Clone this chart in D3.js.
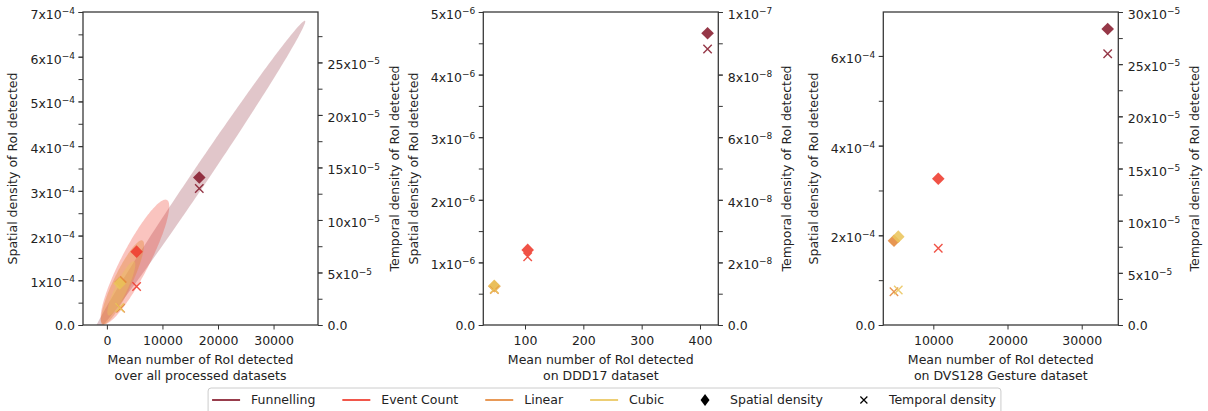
<!DOCTYPE html>
<html>
<head>
<meta charset="utf-8">
<script src="https://cdn.jsdelivr.net/npm/d3@7"></script>
<style>
  body { margin: 0; background: #fff; }
  text { font-family: "DejaVu Sans", sans-serif; fill: #222; }
</style>
</head>
<body>
<script>
// ---- data ----
const methods = ["Funnelling", "Event Count", "Linear", "Cubic"];
const methodColors = ["#861b2d", "#ee3a2c", "#e4873a", "#eac55c"];

// all processed datasets
const allX = [16630, 5350, 2470, 2300];
const allSpatial = [3.30e-4, 1.64e-4, 0.96e-4, 0.93e-4];
const allTemporal = [13.0e-5, 3.66e-5, 1.60e-5, 1.66e-5];

// confidence ellipses (all datasets panel): mean, std, pearson
const ellCenterX = [16630, 5045, 2800, 2600];
const ellCenterY = [3.30e-4, 1.41e-4, 0.95e-4, 0.82e-4];
const ellStdX = [9540, 3090, 1944, 1260];
const ellStdY = [1.7526e-4, 6.97e-5, 4.72e-5, 3.04e-5];
const ellPearson = [0.9955, 0.891, 0.886, 0.88];
const nStd = 2;

// DDD17
const dddX = [413, 104.6, 47.5, 47.3];
const dddSpatial = [4.66e-6, 1.20e-6, 0.62e-6, 0.625e-6];
const dddTemporal = [8.82e-8, 2.18e-8, 1.13e-8, 1.15e-8];

// DVS128 Gesture
const dvsX = [33500, 10670, 4700, 5280];
const dvsSpatial = [6.60e-4, 3.26e-4, 1.88e-4, 1.97e-4];
const dvsTemporal = [2.60e-4, 7.35e-5, 3.19e-5, 3.35e-5];

// axis limits
const xLimits = [[-4300, 38000], [28.5, 431.4], [3260, 34930]];
const spatialLimits = [[0, 7e-4], [0, 5e-6], [0, 6.98e-4]];
const temporalLimits = [[0, 2.98e-4], [0, 1e-7], [0, 3e-4]];

// ticks: [mantissa, exponent]
const xTicks = [[0, 10000, 20000, 30000], [100, 200, 300, 400], [10000, 20000, 30000]];
const spatialTicks = [
  [[0,0],[1,-4],[2,-4],[3,-4],[4,-4],[5,-4],[6,-4],[7,-4]],
  [[0,0],[1,-6],[2,-6],[3,-6],[4,-6],[5,-6]],
  [[0,0],[2,-4],[4,-4],[6,-4]]
];
const temporalTicks = [
  [[0,0],[5,-5],[10,-5],[15,-5],[20,-5],[25,-5],[30,-5]],
  [[0,0],[2,-8],[4,-8],[6,-8],[8,-8],[1,-7]],
  [[0,0],[5,-5],[10,-5],[15,-5],[20,-5],[25,-5],[30,-5]]
];
const spatialMinor = [0.5e-4, 0.5e-6, 1e-4];
const temporalMinor = [2.5e-5, 1e-8, 2.5e-5];

const xTitles = [
  ["Mean number of RoI detected", "over all processed datasets"],
  ["Mean number of RoI detected", "on DDD17 dataset"],
  ["Mean number of RoI detected", "on DVS128 Gesture dataset"]
];

// ---- layout ----
const W = 1208, H = 411;
const plotLeft = [83, 483.3, 883.3];
const plotW = 235, plotTop = 12, plotBottom = 325;
const rightTitleOffset = [76.5, 68, 76.5];
const fs = 12.5;

const svg = d3.select("body").append("svg")
    .attr("width", W).attr("height", H);

const panels = [
  {x: allX, s: allSpatial, t: allTemporal, ellipses: true},
  {x: dddX, s: dddSpatial, t: dddTemporal, ellipses: false},
  {x: dvsX, s: dvsSpatial, t: dvsTemporal, ellipses: false}
];

function tickValue(p) { return p[0] * Math.pow(10, p[1]); }

function setTickLabel(textSel, p) {
  textSel.text(null);
  if (p[0] === 0) {
    textSel.attr("dy", "0.32em").text("0.0");
    return;
  }
  textSel.attr("dy", "0.52em");
  textSel.append("tspan").text(p[0] + "x10");
  textSel.append("tspan").attr("dy", "-0.55em").attr("font-size", "0.72em")
      .text("\u2212" + (-p[1]));
}

function minorValues(lim, step) {
  let n = Math.floor(lim[1] / step + 1e-6);
  return d3.range(0, n + 1).map(i => i * step);
}

function styleAxis(g) {
  g.select(".domain").remove();
  g.selectAll(".tick line").attr("stroke", "#333").attr("stroke-width", 1);
  g.selectAll("text").attr("font-size", fs).attr("font-family", "DejaVu Sans, sans-serif").attr("fill", "#222");
}

panels.forEach((p, k) => {
  const x0 = plotLeft[k];
  const g = svg.append("g");

  const x = d3.scaleLinear().domain(xLimits[k]).range([x0, x0 + plotW]);
  const yS = d3.scaleLinear().domain(spatialLimits[k]).range([plotBottom, plotTop]);
  const yT = d3.scaleLinear().domain(temporalLimits[k]).range([plotBottom, plotTop]);

  const clipId = "clip" + k;
  svg.append("clipPath").attr("id", clipId)
    .append("rect").attr("x", x0).attr("y", plotTop).attr("width", plotW).attr("height", plotBottom - plotTop);

  // ellipses
  if (p.ellipses) {
    const line = d3.line().x(d => x(d[0])).y(d => yS(d[1])).curve(d3.curveLinearClosed);
    methods.forEach((m, i) => {
      const rx = Math.sqrt(1 + ellPearson[i]), ry = Math.sqrt(1 - ellPearson[i]);
      const pts = d3.range(0, 360, 2).map(deg => {
        const a = deg * Math.PI / 180;
        const ex = rx * Math.cos(a), ey = ry * Math.sin(a);
        const px = (ex - ey) / Math.SQRT2, py = (ex + ey) / Math.SQRT2;
        return [ellCenterX[i] + px * ellStdX[i] * nStd, ellCenterY[i] + py * ellStdY[i] * nStd];
      });
      g.append("path")
        .attr("clip-path", `url(#${clipId})`)
        .attr("d", line(pts))
        .attr("fill", methodColors[i])
        .attr("fill-opacity", i === 0 ? 0.25 : (i === 1 ? 0.3 : 0.4))
        .attr("stroke", "none");
    });
  }

  // spatial density diamonds
  const dsize = 6.3;
  g.selectAll(".diamond")
    .data(methods.map((m, i) => ({x: p.x[i], y: p.s[i], c: methodColors[i]})))
    .enter().append("path")
    .attr("class", "diamond")
    .attr("transform", d => `translate(${x(d.x)},${yS(d.y)})`)
    .attr("d", `M0,${-dsize}L${dsize},0L0,${dsize}L${-dsize},0Z`)
    .attr("fill", d => d.c)
    .attr("fill-opacity", 0.88);

  // temporal density crosses
  const cs = 4.2;
  g.selectAll(".cross")
    .data(methods.map((m, i) => ({x: p.x[i], y: p.t[i], c: methodColors[i]})))
    .enter().append("path")
    .attr("class", "cross")
    .attr("transform", d => `translate(${x(d.x)},${yT(d.y)})`)
    .attr("d", `M${-cs},${-cs}L${cs},${cs}M${-cs},${cs}L${cs},${-cs}`)
    .attr("stroke", d => d.c)
    .attr("stroke-width", 1.4)
    .attr("stroke-opacity", 0.88)
    .attr("fill", "none");

  // frame
  g.append("rect")
    .attr("x", x0).attr("y", plotTop).attr("width", plotW).attr("height", plotBottom - plotTop)
    .attr("fill", "none").attr("stroke", "#3a3a3a").attr("stroke-width", 1.3);

  // x axis
  const gx = g.append("g").attr("transform", `translate(0,${plotBottom})`)
    .call(d3.axisBottom(x).tickValues(xTicks[k]).tickSize(4.5).tickPadding(4).tickFormat(d3.format("d")));
  styleAxis(gx);
  gx.selectAll("text").attr("dy", null).attr("y", 20);

  // left axis (spatial)
  const gl = g.append("g").attr("transform", `translate(${x0},0)`)
    .call(d3.axisLeft(yS).tickValues(minorValues(spatialLimits[k], spatialMinor[k])).tickSize(4.5).tickFormat(""));
  styleAxis(gl);
  const glm = g.append("g").attr("transform", `translate(${x0},0)`)
    .call(d3.axisLeft(yS).tickValues(spatialTicks[k].map(tickValue)).tickSize(4.5).tickPadding(3.5));
  styleAxis(glm);
  glm.selectAll(".tick text").each(function(d, i) { setTickLabel(d3.select(this), spatialTicks[k][i]); });

  // right axis (temporal)
  const gr = g.append("g").attr("transform", `translate(${x0 + plotW},0)`)
    .call(d3.axisRight(yT).tickValues(minorValues(temporalLimits[k], temporalMinor[k])).tickSize(4.5).tickFormat(""));
  styleAxis(gr);
  const tVals = temporalTicks[k].filter(t => tickValue(t) <= temporalLimits[k][1] * 1.0001);
  const grm = g.append("g").attr("transform", `translate(${x0 + plotW},0)`)
    .call(d3.axisRight(yT).tickValues(tVals.map(tickValue)).tickSize(4.5).tickPadding(5));
  styleAxis(grm);
  grm.selectAll(".tick text").each(function(d, i) { setTickLabel(d3.select(this), tVals[i]); });

  // axis titles
  const xt = g.append("text").attr("text-anchor", "middle").attr("font-size", fs);
  xTitles[k].forEach((line, j) => {
    xt.append("tspan").attr("x", x0 + plotW / 2).attr("y", 364 + j * 15.5).text(line);
  });

  const midY = (plotTop + plotBottom) / 2;
  g.append("text")
    .attr("transform", `translate(${x0 - 70},${midY}) rotate(-90)`)
    .attr("text-anchor", "middle").attr("dy", "0.35em").attr("font-size", fs)
    .text("Spatial density of RoI detected");
  g.append("text")
    .attr("transform", `translate(${x0 + plotW + rightTitleOffset[k]},${midY}) rotate(-90)`)
    .attr("text-anchor", "middle").attr("dy", "0.35em").attr("font-size", fs)
    .text("Temporal density of RoI detected");
});

// ---- legend ----
const legend = svg.append("g");
const legendBox = legend.append("rect")
  .attr("rx", 3).attr("fill", "#fff").attr("fill-opacity", 0.8)
  .attr("stroke", "#cccccc").attr("stroke-width", 1);
const items = methods.map((m, i) => ({label: m, type: "line", color: methodColors[i]}))
  .concat([{label: "Spatial density", type: "diamond"}, {label: "Temporal density", type: "cross"}]);

const ly = 400, handleLen = 28, handlePad = 11, colSpace = 27;
let cursor = 0;
const itemG = legend.append("g");
items.forEach(it => {
  const hx = cursor;
  if (it.type === "line") {
    itemG.append("line").attr("x1", hx).attr("x2", hx + handleLen).attr("y1", ly).attr("y2", ly)
      .attr("stroke", it.color).attr("stroke-width", 2).attr("stroke-opacity", 0.85);
  } else if (it.type === "diamond") {
    const c = hx + handleLen / 2;
    itemG.append("path").attr("d", `M${c},${ly - 6}L${c + 4.5},${ly}L${c},${ly + 6}L${c - 4.5},${ly}Z`).attr("fill", "#000");
  } else {
    const c = hx + handleLen / 2, s = 3.5;
    itemG.append("path").attr("d", `M${c - s},${ly - s}L${c + s},${ly + s}M${c - s},${ly + s}L${c + s},${ly - s}`)
      .attr("stroke", "#000").attr("stroke-width", 1.2);
  }
  const t = itemG.append("text").attr("x", hx + handleLen + handlePad).attr("y", ly)
    .attr("dy", "0.35em").attr("font-size", fs).text(it.label);
  cursor = hx + handleLen + handlePad + t.node().getComputedTextLength() + colSpace;
});
const totalW = cursor - colSpace;
const lx = W / 2 - totalW / 2;
itemG.attr("transform", `translate(${lx},0)`);
legendBox.attr("x", lx - 4).attr("y", 388).attr("width", totalW + 9).attr("height", 30);
</script>
</body>
</html>
